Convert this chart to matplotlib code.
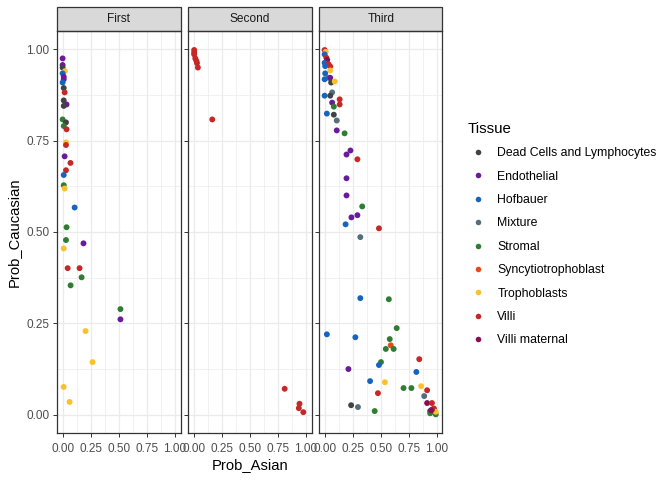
import numpy as np
import matplotlib
matplotlib.use("Agg")
from matplotlib import pyplot as plt
from matplotlib.lines import Line2D
from matplotlib.patches import Rectangle
from matplotlib.ticker import MultipleLocator

plt.rcParams['font.family'] = ['Liberation Sans', 'DejaVu Sans']

tissues = ['Dead Cells and Lymphocytes', 'Endothelial', 'Hofbauer', 'Mixture',
           'Stromal', 'Syncytiotrophoblast', 'Trophoblasts', 'Villi', 'Villi maternal']
colors = ['#424242', '#6A1B9A', '#1565C0', '#546E7A', '#2E7D32',
          '#E64A19', '#FBC02D', '#C62828', '#880E4F']
panels = ['First', 'Second', 'Third']

# tissue codes index into tissues
first_asian = [0.00, 0.00, 0.00, 0.02, 0.00, 0.01, 0.01, 0.00, 0.01, 0.018, 0.01, 0.035,
               0.01, 0.00, 0.03, 0.01, 0.035, 0.03, 0.03, 0.018, 0.07, 0.03, 0.01, 0.01,
               0.018, 0.107, 0.035, 0.03, 0.186, 0.01, 0.045, 0.151, 0.169, 0.071,
               0.515, 0.515, 0.204, 0.266, 0.009, 0.062]
first_cauc = [0.975, 0.957, 0.950, 0.940, 0.934, 0.925, 0.918, 0.909, 0.894, 0.882, 0.860,
              0.849, 0.845, 0.808, 0.800, 0.790, 0.781, 0.745, 0.738, 0.707, 0.689, 0.669,
              0.656, 0.628, 0.619, 0.567, 0.513, 0.478, 0.469, 0.455, 0.401, 0.401, 0.376,
              0.354, 0.289, 0.261, 0.229, 0.144, 0.076, 0.035]
first_tissue = [1, 1, 0, 6, 2, 1, 1, 2, 0, 7, 0, 1, 0, 4, 0, 4, 7, 6, 7, 1, 7, 7, 2, 4,
                6, 2, 4, 4, 1, 6, 7, 7, 4, 4, 4, 1, 6, 6, 6, 6]

second_asian = [0.005, 0.005, 0.005, 0.015, 0.025, 0.03, 0.038, 0.166, 0.811, 0.943, 0.937, 0.977]
second_cauc = [0.998, 0.991, 0.986, 0.975, 0.968, 0.962, 0.950, 0.808, 0.071, 0.030, 0.018, 0.007]
second_tissue = [7] * 12

third_asian = [0.00, 0.01, 0.00, 0.015, 0.023, 0.00, 0.035, 0.005, 0.05, 0.05, 0.005, 0.035,
               0.05, 0.00, 0.058, 0.09, 0.067, 0.00, 0.05, 0.134, 0.134, 0.067, 0.082, 0.02,
               0.082, 0.108, 0.108, 0.178, 0.23, 0.195, 0.292, 0.195, 0.195, 0.335, 0.292,
               0.239, 0.187, 0.484, 0.318, 0.318, 0.572, 0.642, 0.02, 0.274, 0.58, 0.589,
               0.545, 0.615, 0.843, 0.502, 0.484, 0.817, 0.212, 0.405, 0.537, 0.703, 0.773,
               0.86, 0.913, 0.475, 0.887, 0.913, 0.956, 0.236, 0.297, 0.446, 0.974, 0.94,
               0.974, 0.94, 0.99, 0.99, 0.956, 0.95]
third_cauc = [0.998, 0.993, 0.986, 0.977, 0.971, 0.963, 0.959, 0.954, 0.953, 0.942, 0.934,
              0.922, 0.922, 0.918, 0.909, 0.912, 0.882, 0.873, 0.873, 0.863, 0.849, 0.854,
              0.843, 0.824, 0.821, 0.805, 0.778, 0.770, 0.723, 0.712, 0.699, 0.647, 0.600,
              0.570, 0.546, 0.540, 0.521, 0.510, 0.486, 0.319, 0.316, 0.237, 0.220, 0.212,
              0.207, 0.190, 0.180, 0.180, 0.152, 0.144, 0.136, 0.117, 0.125, 0.092, 0.089,
              0.073, 0.073, 0.078, 0.067, 0.059, 0.051, 0.032, 0.032, 0.026, 0.021, 0.010,
              0.017, 0.010, 0.008, 0.004, 0.001, 0.008, 0.014, 0.012]
third_tissue = [7, 6, 2, 7, 8, 2, 7, 2, 7, 6, 2, 3, 1, 2, 0, 6, 3, 2, 0, 7, 7, 1, 4, 2,
                0, 3, 1, 4, 1, 1, 7, 1, 1, 4, 1, 1, 2, 7, 3, 2, 4, 4, 2, 2, 4, 5,
                4, 4, 7, 4, 2, 2, 1, 2, 6, 4, 4, 6, 7, 7, 3, 8, 7, 0, 3, 4, 7, 1,
                7, 4, 4, 6, 7, 8]

data = [(first_asian, first_cauc, first_tissue),
        (second_asian, second_cauc, second_tissue),
        (third_asian, third_cauc, third_tissue)]

fig = plt.figure(figsize=(6.72, 4.8), dpi=100)
W, H = 672, 480
left, top, bottom = 57, 31, 433
pw, gap = 123.5, 7.5
tick_col = '#4D4D4D'
axes = []
for i, name in enumerate(panels):
    x0 = left + i * (pw + gap)
    ax = fig.add_axes([x0 / W, 1 - bottom / H, pw / W, (bottom - top) / H])
    axes.append(ax)
    ax.set_xlim(-0.05, 1.05)
    ax.set_ylim(-0.05, 1.05)
    ax.xaxis.set_major_locator(MultipleLocator(0.25))
    ax.xaxis.set_minor_locator(MultipleLocator(0.125))
    ax.yaxis.set_major_locator(MultipleLocator(0.25))
    ax.yaxis.set_minor_locator(MultipleLocator(0.125))
    ax.grid(which='major', color='#EBEBEB', lw=0.9)
    ax.grid(which='minor', color='#EBEBEB', lw=0.5)
    ax.set_axisbelow(True)
    for s in ax.spines.values():
        s.set_color('#333333')
        s.set_linewidth(0.9)
    ax.tick_params(which='major', length=2.6, width=0.7, color='#333333',
                   labelsize=8.5, labelcolor=tick_col, pad=3)
    ax.tick_params(axis='x', which='major', pad=4.5)
    ax.tick_params(which='minor', length=0)
    ax.xaxis.set_major_formatter(lambda v, p: f'{v:.2f}')
    if i == 0:
        ax.yaxis.set_major_formatter(lambda v, p: f'{v:.2f}')
    else:
        ax.tick_params(axis='y', labelleft=False)
    xs, ys, ts = data[i]
    ax.scatter(xs, ys, c=[colors[t] for t in ts], s=18, linewidths=0, zorder=3)
    sh = 24 / (bottom - top)
    ax.add_patch(Rectangle((0, 1), 1, sh, transform=ax.transAxes, facecolor='#D9D9D9',
                           edgecolor='#333333', lw=0.9, clip_on=False))
    ax.text(0.5, 1 + sh / 2, name, transform=ax.transAxes, ha='center', va='center',
            fontsize=8.6, color='#1A1A1A')

axes[0].set_ylabel('Prob_Caucasian', fontsize=10.6, labelpad=4)
fig.text((left + 1.5 * pw + gap) / W, 1 - 472 / H, 'Prob_Asian', ha='center',
         va='bottom', fontsize=10.6)

handles = [Line2D([], [], ls='', marker='o', markersize=4, markerfacecolor=c,
                  markeredgewidth=0) for c in colors]
leg = fig.legend(handles, tissues, title='Tissue', loc='upper left',
                 bbox_to_anchor=(457 / W, 1 - 111 / H), frameon=False, fontsize=8.8,
                 title_fontsize=10.8, labelspacing=0.93, handletextpad=0.8,
                 handlelength=1.6)
leg._legend_box.align = 'left'

fig.savefig('out.png', dpi=100)
